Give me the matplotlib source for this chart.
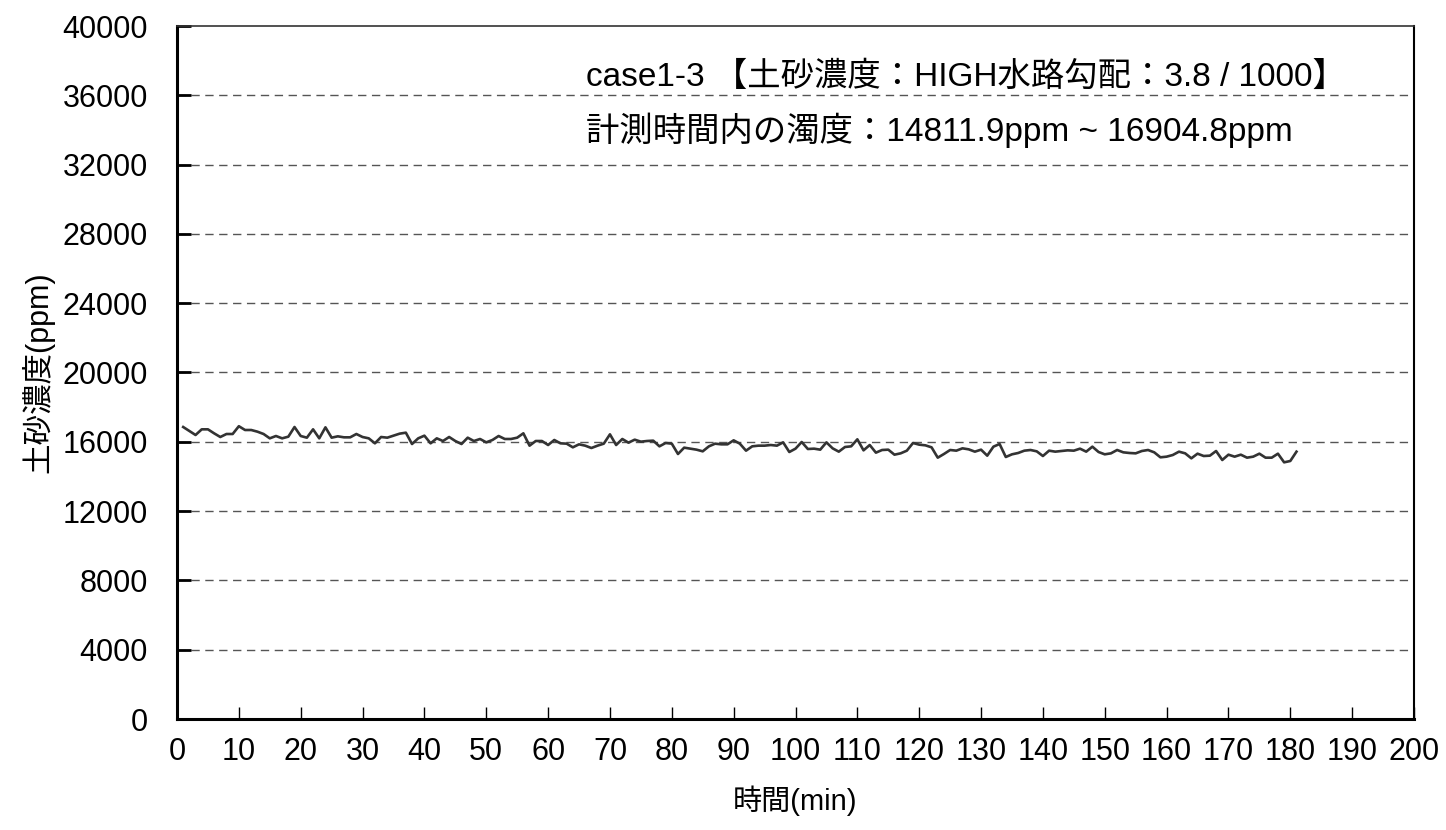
import matplotlib
matplotlib.use("Agg")
import matplotlib.pyplot as plt
import numpy as np

plt.rcParams['font.family'] = ['Liberation Sans', 'Noto Sans CJK JP', 'DejaVu Sans']

minutes = list(range(1, 182))
ppm = [
    16854, 16624, 16393, 16720, 16720, 16489, 16277, 16450, 16450, 16900,
    16681, 16681, 16585, 16450, 16200, 16335, 16200, 16296, 16854, 16335,
    16238, 16720, 16200, 16835, 16238, 16316, 16258, 16258, 16450, 16277,
    16200, 15912, 16277, 16238, 16354, 16470, 16527, 15873, 16200, 16354,
    15912, 16200, 16046, 16277, 16046, 15873, 16238, 16046, 16162, 15969,
    16104, 16335, 16162, 16162, 16238, 16489, 15777, 16046, 16046, 15815,
    16104, 15912, 15892, 15681, 15854, 15777, 15642, 15777, 15892, 16431,
    15815, 16162, 15950, 16123, 16008, 16046, 16066, 15738, 15931, 15892,
    15296, 15662, 15604, 15546, 15450, 15738, 15892, 15854, 15854, 16085,
    15892, 15488, 15738, 15777, 15777, 15815, 15777, 15969, 15411, 15604,
    15989, 15584, 15604, 15546, 15969, 15623, 15431, 15700, 15738, 16143,
    15507, 15815, 15373, 15527, 15546, 15257, 15334, 15488, 15931, 15835,
    15796, 15681, 15084, 15296, 15527, 15488, 15623, 15565, 15431, 15546,
    15200, 15719, 15873, 15123, 15277, 15354, 15488, 15527, 15450, 15180,
    15488, 15431, 15469, 15507, 15488, 15604, 15431, 15719, 15411, 15277,
    15334, 15527, 15392, 15354, 15334, 15469, 15527, 15392, 15104, 15142,
    15238, 15431, 15334, 15046, 15315, 15180, 15200, 15469, 14950, 15257,
    15142, 15257, 15084, 15142, 15315, 15084, 15084, 15315, 14815, 14892,
    15431,
]

x_ticks = list(range(0, 201, 10))
y_ticks = list(range(0, 40001, 4000))

title_line1 = "case1-3 【土砂濃度：HIGH水路勾配：3.8 / 1000】"
title_line2 = "計測時間内の濁度：14811.9ppm ~ 16904.8ppm"

fig = plt.figure(figsize=(14.46, 8.30), dpi=100)
ax = fig.add_axes([177/1446, 1-719/830, (1414-177)/1446, (719-26)/830])

ax.plot(minutes, ppm, color='#333333', lw=1.9)

ax.set_xlim(0, 200)
ax.set_ylim(0, 40000)
ax.set_xticks(x_ticks)
ax.set_yticks(y_ticks)
ax.tick_params(axis='x', direction='in', length=9, width=1, labelsize=22, pad=13)
ax.tick_params(axis='y', direction='in', length=10, width=2, labelsize=22, pad=21)

for y in y_ticks[1:-1]:
    ax.axhline(y, color='#555555', lw=1, ls=(0, (6, 4)), zorder=0)

ax.spines['left'].set_linewidth(2.2)
ax.spines['bottom'].set_linewidth(2.2)
ax.spines['top'].set_linewidth(1.2)
ax.spines['right'].set_linewidth(1.5)
ax.spines['top'].set_color('#333333')

ax.set_xlabel("時間(min)", fontsize=21, labelpad=13)
ax.set_ylabel("土砂濃度(ppm)", fontsize=22, labelpad=6)

ax.text(0.3305, 0.926, title_line1, transform=ax.transAxes, fontsize=24, va='center', ha='left')
ax.text(0.3305, 0.850, title_line2, transform=ax.transAxes, fontsize=24, va='center', ha='left')

fig.savefig("out.png", dpi=100)
